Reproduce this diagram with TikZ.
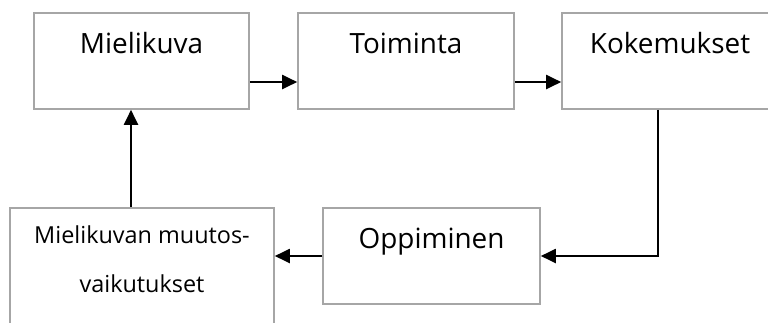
\documentclass[tikz,border=0pt]{standalone}
\usepackage{fontspec}
\setmainfont{Open Sans}
\usetikzlibrary{arrows.meta}
\definecolor{boxgray}{HTML}{A6A6A6}
\tikzset{
  box/.style={draw=boxgray, line width=1.6bp, fill=white, inner sep=0pt, rectangle},
  bigtxt/.style={anchor=base, inner sep=0pt, font=\fontsize{28}{34}\selectfont},
  smalltxt/.style={anchor=base, inner sep=0pt, font=\fontsize{23.5}{28}\selectfont},
  arr/.style={line width=2bp, -{Triangle[length=15bp,width=14bp]}}
}
\begin{document}
\begin{tikzpicture}[x=1bp,y=-1bp]
\useasboundingbox (0,0) rectangle (768,322);
\clip (0,0) rectangle (768,322);
% boxes
\node[box, minimum width=215bp, minimum height=96bp] (m1) at (141.5,61) {};
\node[box, minimum width=216bp, minimum height=96bp] (t) at (406,61) {};
\node[box, minimum width=216bp, minimum height=96bp] (k) at (670,61) {};
\node[box, minimum width=217bp, minimum height=96bp] (o) at (431.5,256) {};
\node[box, minimum width=264bp, minimum height=140bp] (mm) at (142,278) {};
% texts
\node[bigtxt] (m1t) at (141.5,53) {Mielikuva};
\node[bigtxt] (tt) at (406,53) {Toiminta};
\node[bigtxt] (kt) at (670,53) {Kokemukset};
\node[bigtxt] (ot) at (431.5,248) {Oppiminen};
\node[smalltxt] (mmt1) at (142,243) {Mielikuvan muutos-};
\node[smalltxt] (mmt2) at (142,292) {vaikutukset};
% connectors
\draw[arr] (m1.east |- 0,82) -- (t.west |- 0,82);
\draw[arr] (t.east |- 0,82) -- (k.west |- 0,82);
\draw[arr] (k.south -| 658,0) |- (o.east);
\draw[arr] (o.west) -- (o.west -| mm.east);
\draw[arr] (mm.north -| 131,0) -- (m1.south -| 131,0);
\end{tikzpicture}
\end{document}
